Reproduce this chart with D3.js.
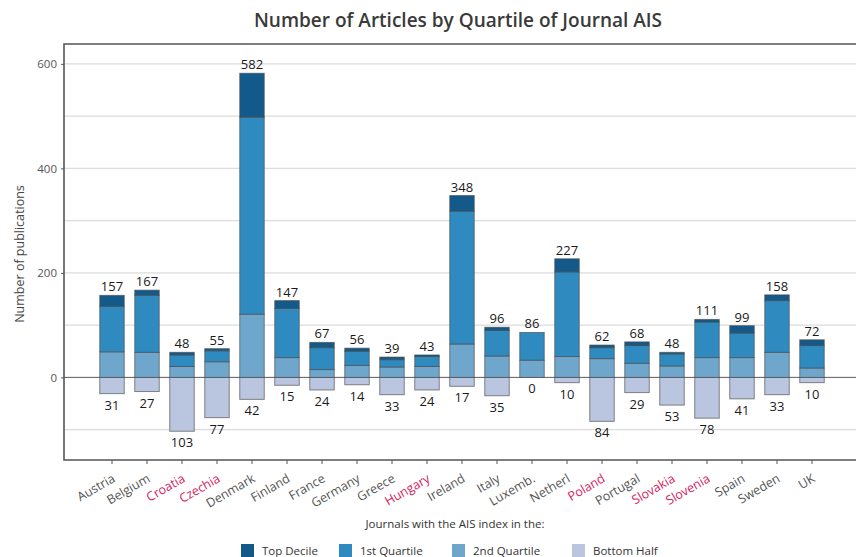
<!DOCTYPE html>
<html lang="en">
<head>
  <meta charset="UTF-8"/>
  <title>Number of Articles by Quartile of Journal AIS</title>
  <script src="https://d3js.org/d3.v7.min.js"></script>
  <style>
    body { margin: 0; background: #fff; font-family: 'Open Sans', sans-serif; }
    svg { display: block; font-family: 'Open Sans', sans-serif; }
    .grid line { stroke: #dcdcdc; stroke-width: 1.2; }
    .grid path { stroke-width: 0; }
    text.title { font-size: 19px; font-weight: 600; fill: #3a3a3a; }
    text.value { font-size: 13px; fill: #1a1a1a; }
    text.axis-title { font-size: 12.5px; fill: #444; }
    .yaxis text { font-size: 11.5px; fill: #555; font-family: 'Open Sans', sans-serif; }
    .xaxis text { font-size: 12.5px; font-family: 'Open Sans', sans-serif; }
    text.legend { font-size: 11.5px; fill: #333; }
  </style>
</head>
<body>
<svg width="856" height="557"></svg>
<script>
const countries = ['Austria', 'Belgium', 'Croatia', 'Czechia', 'Denmark', 'Finland', 'France', 'Germany',
  'Greece', 'Hungary', 'Ireland', 'Italy', 'Luxemb.', 'Netherl', 'Poland', 'Portugal', 'Slovakia',
  'Slovenia', 'Spain', 'Sweden', 'UK'];
const highlighted = ['Croatia', 'Czechia', 'Hungary', 'Poland', 'Slovakia', 'Slovenia'];

const secondQuartile = [49, 48, 21, 30, 121, 38, 15, 23, 20, 21, 64, 41, 33, 40, 36, 27, 22, 38, 38, 48, 18];
const firstQuartile  = [87, 109, 22, 21, 377, 94, 42, 27, 14, 19, 254, 49, 53, 162, 21, 34, 23, 68, 47, 99, 43];
const topDecile      = [21, 10, 5, 4, 84, 15, 10, 6, 5, 3, 30, 6, 0, 25, 5, 7, 3, 5, 14, 11, 11];
const bottomHalf     = [31, 27, 103, 77, 42, 15, 24, 14, 33, 24, 17, 35, 0, 10, 84, 29, 53, 78, 41, 33, 10];

const seriesNames = ['Top Decile', '1st Quartile', '2nd Quartile', 'Bottom Half'];
const seriesColors = ['#135a8a', '#2f8bbf', '#6fa6cb', '#bac6e0'];
const yTicks = [0, 200, 400, 600];
const yGrid = [-100, 0, 100, 200, 300, 400, 500, 600];

const svg = d3.select('svg');
const panelLeft = 64, panelTop = 44, panelBottom = 460, panelRight = 870;

const xScale = d3.scaleBand()
  .domain(countries)
  .range([94.5, 829.5])
  .paddingInner(0.3)
  .paddingOuter(0.15);

const yScale = d3.scaleLinear()
  .domain([-158, 638])
  .range([panelBottom, panelTop]);

// grid
svg.append('g')
  .attr('class', 'grid')
  .selectAll('line')
  .data(yGrid)
  .enter()
  .append('line')
  .attr('x1', panelLeft)
  .attr('x2', panelRight)
  .attr('y1', d => yScale(d))
  .attr('y2', d => yScale(d));

// zero line
svg.append('line')
  .attr('x1', panelLeft).attr('x2', panelRight)
  .attr('y1', yScale(0)).attr('y2', yScale(0))
  .attr('stroke', '#666').attr('stroke-width', 1);

// stacked segments per country
const rows = countries.map((c, i) => {
  const q2 = secondQuartile[i], q1 = firstQuartile[i], td = topDecile[i], bh = bottomHalf[i];
  return {
    country: c,
    total: q2 + q1 + td,
    bottom: bh,
    segs: [
      { lo: -bh, hi: 0, color: seriesColors[3] },
      { lo: 0, hi: q2, color: seriesColors[2] },
      { lo: q2, hi: q2 + q1, color: seriesColors[1] },
      { lo: q2 + q1, hi: q2 + q1 + td, color: seriesColors[0] }
    ].filter(s => s.hi > s.lo)
  };
});

const groups = svg.selectAll('g.bar')
  .data(rows)
  .enter()
  .append('g')
  .attr('class', 'bar');

groups.selectAll('rect')
  .data(d => d.segs.map(s => Object.assign({ country: d.country }, s)))
  .enter()
  .append('rect')
  .attr('x', d => xScale(d.country))
  .attr('width', xScale.bandwidth())
  .attr('y', d => yScale(d.hi))
  .attr('height', d => yScale(d.lo) - yScale(d.hi))
  .attr('fill', d => d.color)
  .attr('stroke', '#4a4a4a')
  .attr('stroke-opacity', 0.65)
  .attr('stroke-width', 1);

groups.append('text')
  .attr('class', 'value')
  .attr('x', d => xScale(d.country) + xScale.bandwidth() / 2)
  .attr('y', d => yScale(d.total) - 4)
  .attr('text-anchor', 'middle')
  .text(d => d.total);

groups.append('text')
  .attr('class', 'value')
  .attr('x', d => xScale(d.country) + xScale.bandwidth() / 2)
  .attr('y', d => yScale(-d.bottom) + 16)
  .attr('text-anchor', 'middle')
  .text(d => d.bottom);

// panel border
svg.append('path')
  .attr('d', `M${panelRight},${panelTop}H${panelLeft}V${panelBottom}H${panelRight}`)
  .attr('fill', 'none')
  .attr('stroke', '#555')
  .attr('stroke-width', 1.6);

// y axis
const yAxis = svg.append('g')
  .attr('class', 'yaxis')
  .attr('transform', `translate(${panelLeft}, 0)`)
  .call(d3.axisLeft(yScale).tickValues(yTicks).tickSize(3).tickPadding(4));
yAxis.select('.domain').remove();
yAxis.selectAll('line').attr('stroke', '#555');

// x axis
const xAxis = svg.append('g')
  .attr('class', 'xaxis')
  .attr('transform', `translate(0, ${panelBottom})`)
  .call(d3.axisBottom(xScale).tickSize(4).tickPadding(0));
xAxis.select('.domain').remove();
xAxis.selectAll('line').attr('stroke', '#555');
xAxis.selectAll('text')
  .attr('text-anchor', 'end')
  .attr('dy', '0')
  .attr('y', 0)
  .attr('transform', 'translate(4, 21) rotate(-30)')
  .attr('fill', d => highlighted.includes(d) ? '#d6245f' : '#555');

// titles
svg.append('text')
  .attr('class', 'title')
  .attr('x', 458)
  .attr('y', 27)
  .attr('text-anchor', 'middle')
  .text('Number of Articles by Quartile of Journal AIS');

svg.append('text')
  .attr('class', 'axis-title')
  .attr('transform', `translate(24, ${(panelTop + panelBottom) / 2 + 2}) rotate(-90)`)
  .attr('text-anchor', 'middle')
  .text('Number of publications');

// legend
svg.append('text')
  .attr('class', 'legend')
  .attr('x', 455)
  .attr('y', 528)
  .attr('text-anchor', 'middle')
  .text('Journals with the AIS index in the:');

const legendX = [241, 339, 452, 572];
const legend = svg.selectAll('g.legend-item')
  .data(seriesNames)
  .enter()
  .append('g')
  .attr('class', 'legend-item')
  .attr('transform', (d, i) => `translate(${legendX[i]}, 544)`);

legend.append('rect')
  .attr('width', 13)
  .attr('height', 13)
  .attr('fill', (d, i) => seriesColors[i]);

legend.append('text')
  .attr('class', 'legend')
  .attr('x', 21)
  .attr('y', 11)
  .text(d => d);
</script>
</body>
</html>
